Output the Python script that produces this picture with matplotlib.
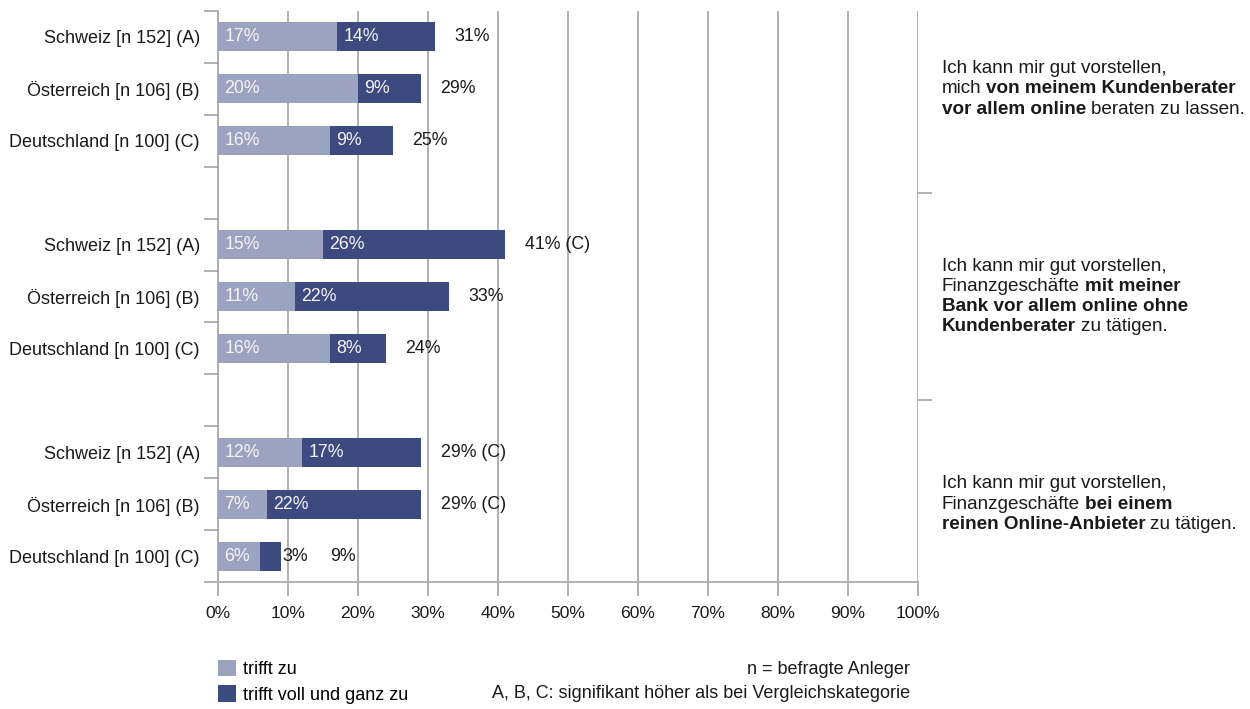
import matplotlib
matplotlib.use("Agg")
import matplotlib.pyplot as plt
from matplotlib.patches import Patch
from matplotlib.offsetbox import TextArea, HPacker, VPacker, AnnotationBbox

plt.rcParams['font.family'] = ['Liberation Sans', 'DejaVu Sans']

# ---- data ----
countries = ["Schweiz [n 152] (A)", "Österreich [n 106] (B)", "Deutschland [n 100] (C)"]
trifft_zu = [17, 20, 16, 15, 11, 16, 12, 7, 6]
trifft_voll = [14, 9, 9, 26, 22, 8, 17, 22, 3]
totals = [31, 29, 25, 41, 33, 24, 29, 29, 9]
signif = ["", "", "", "(C)", "", "", "(C)", "(C)", ""]
x_ticks = [0, 10, 20, 30, 40, 50, 60, 70, 80, 90, 100]
x_labels = [f"{v}%" for v in x_ticks]
statements = [
    [[("Ich kann mir gut vorstellen,", "normal")],
     [("mich", "normal"), ("von meinem Kundenberater", "bold")],
     [("vor allem online", "bold"), ("beraten zu lassen.", "normal")]],
    [[("Ich kann mir gut vorstellen,", "normal")],
     [("Finanzgeschäfte", "normal"), ("mit meiner", "bold")],
     [("Bank vor allem online ohne", "bold")],
     [("Kundenberater", "bold"), ("zu tätigen.", "normal")]],
    [[("Ich kann mir gut vorstellen,", "normal")],
     [("Finanzgeschäfte", "normal"), ("bei einem", "bold")],
     [("reinen Online-Anbieter", "bold"), ("zu tätigen.", "normal")]],
]
legend_labels = ["trifft zu", "trifft voll und ganz zu"]
notes = ["n = befragte Anleger", "A, B, C: signifikant höher als bei Vergleichskategorie"]

# ---- style ----
C_LIGHT = "#9CA3C0"
C_DARK = "#3C4A7F"
C_GRID = "#ABABAB"
C_TEXT = "#1A1A1A"
FS_LBL = 13.0
FS_BAR = 12.8
FS_TICK = 12.6
FS_STMT = 13.6
FS_LEG = 13.0

# rows: 3 groups of 3, separated by an empty row
rows = []
for g in range(3):
    for i in range(3):
        rows.append(g * 4 + i)
row_labels = countries * 3

fig = plt.figure(figsize=(12.5, 7.09), dpi=100)
ax = fig.add_axes([218 / 1250, 1 - 582 / 709, 700 / 1250, (582 - 11) / 709])

bh = 0.56
ax.barh(rows, trifft_zu, height=bh, color=C_LIGHT, zorder=3)
ax.barh(rows, trifft_voll, left=trifft_zu, height=bh, color=C_DARK, zorder=3)

for r, a, b, t, s in zip(rows, trifft_zu, trifft_voll, totals, signif):
    ax.text(0.9, r, f"{a}%", color="#F4F4F4", fontsize=FS_BAR, va="center", ha="left", zorder=4)
    tot_lbl = f"{t}%" + (f" {s}" if s else "")
    if b >= 5:
        ax.text(a + 0.9, r, f"{b}%", color="#F4F4F4", fontsize=FS_BAR, va="center", ha="left", zorder=4)
        ax.text(t + 2.8, r, tot_lbl, color=C_TEXT, fontsize=FS_BAR, va="center", ha="left", zorder=4)
    else:
        ax.text(t + 0.2, r, f"{b}%", color=C_TEXT, fontsize=FS_BAR, va="center", ha="left", zorder=4)
        ax.text(t + 7.0, r, tot_lbl, color=C_TEXT, fontsize=FS_BAR, va="center", ha="left", zorder=4)

ax.set_xlim(0, 100)
ax.set_ylim(10.5, -0.5)
ax.set_xticks(x_ticks)
ax.set_xticklabels(x_labels, fontsize=FS_TICK, color=C_TEXT)
ax.xaxis.grid(True, color=C_GRID, lw=1.3, zorder=0)
ax.tick_params(axis="x", length=10, width=1.3, color=C_GRID, pad=7)

boundaries = [k - 0.5 for k in range(12)]
ax.set_yticks(boundaries)
ax.set_yticklabels([""] * len(boundaries))
ax.tick_params(axis="y", which="major", length=10, width=1.3, color=C_GRID)
ax.set_yticks(rows, minor=True)
ax.set_yticklabels(row_labels, minor=True, fontsize=FS_LBL, color=C_TEXT)
ax.tick_params(axis="y", which="minor", length=0, pad=13)

for sp in ["top", "right"]:
    ax.spines[sp].set_visible(False)
for sp in ["left", "bottom"]:
    ax.spines[sp].set_color(C_GRID)
    ax.spines[sp].set_linewidth(1.3)

# right-hand axis ticks between groups
ax2 = ax.twinx()
ax2.set_ylim(ax.get_ylim())
ax2.set_yticks([3, 7])
ax2.set_yticklabels(["", ""])
ax2.tick_params(axis="y", length=10, width=1.3, color=C_GRID)
for sp in ax2.spines.values():
    sp.set_visible(False)

# statement texts on the right
text_y = [1, 5, 9]
for lines, yy in zip(statements, text_y):
    hboxes = []
    for line in lines:
        parts = [TextArea(txt, textprops=dict(fontsize=FS_STMT, fontweight=w, color=C_TEXT))
                 for txt, w in line]
        hboxes.append(HPacker(children=parts, align="baseline", pad=0, sep=3.8))
    vbox = VPacker(children=hboxes, align="left", pad=0, sep=2.3)
    ab = AnnotationBbox(vbox, (1.0337, yy), xycoords=("axes fraction", "data"),
                        box_alignment=(0, 0.5), frameon=False, pad=0,
                        annotation_clip=False)
    ax.add_artist(ab)

# legend
handles = [Patch(facecolor=C_LIGHT, edgecolor="none"), Patch(facecolor=C_DARK, edgecolor="none")]
fig.legend(handles, legend_labels, loc="upper left", bbox_to_anchor=(218 / 1250, 1 - 660 / 709),
           frameon=False, fontsize=FS_LEG, handlelength=1.0, handleheight=1.0,
           handletextpad=0.4, labelspacing=0.4, borderpad=0, borderaxespad=0)
fig.text(910 / 1250, 1 - 669 / 709, notes[0], ha="right", va="center", fontsize=FS_LEG, color=C_TEXT)
fig.text(910 / 1250, 1 - 694 / 709, notes[1], ha="right", va="center", fontsize=FS_LEG, color=C_TEXT)

fig.savefig("out.png", dpi=100)
